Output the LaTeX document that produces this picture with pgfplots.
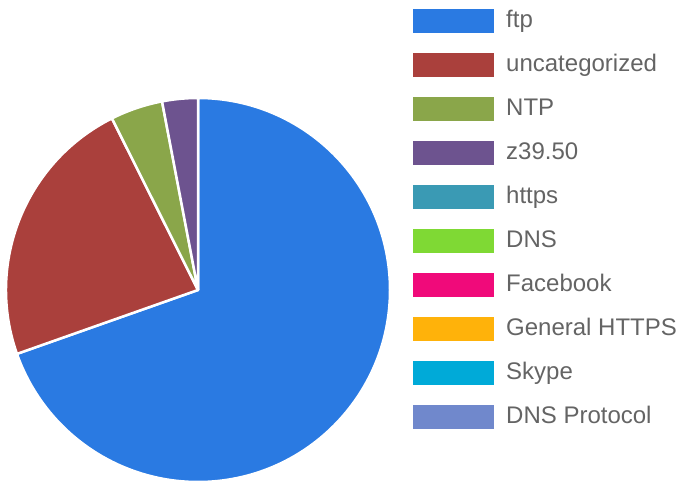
\documentclass[border=0pt]{standalone}
\usepackage{pgfplots}
\usepackage{pgfplotstable}
\pgfplotsset{compat=1.18}
\usepackage{fontspec}
\setmainfont{Liberation Sans}

\definecolor{cftp}{RGB}{42,122,226}
\definecolor{cunc}{RGB}{170,64,60}
\definecolor{cntp}{RGB}{138,166,74}
\definecolor{czz}{RGB}{109,83,143}
\definecolor{chttps}{RGB}{58,154,180}
\definecolor{cdns}{RGB}{127,217,52}
\definecolor{cfb}{RGB}{240,10,122}
\definecolor{cgh}{RGB}{255,178,10}
\definecolor{csky}{RGB}{0,170,216}
\definecolor{cdnsp}{RGB}{112,136,204}
\definecolor{ctext}{RGB}{100,100,100}

\pgfplotstableread{
label value
ftp 69.6
uncategorized 23.0
NTP 4.4
z39.50 3.0
https 0
DNS 0
Facebook 0
GeneralHTTPS 0
Skype 0
DNSProtocol 0
}\piedata

\pgfplotstablegetelem{0}{value}\of\piedata \let\vA\pgfplotsretval
\pgfplotstablegetelem{1}{value}\of\piedata \let\vB\pgfplotsretval
\pgfplotstablegetelem{2}{value}\of\piedata \let\vC\pgfplotsretval
\pgfplotstablegetelem{3}{value}\of\piedata \let\vD\pgfplotsretval
\pgfmathsetmacro\aA{90-3.6*\vA}
\pgfmathsetmacro\aB{\aA-3.6*\vB}
\pgfmathsetmacro\aC{\aB-3.6*\vC}
\pgfmathsetmacro\aD{\aC-3.6*\vD}

\begin{document}
\begin{tikzpicture}
\begin{axis}[
  name=ax,
  x=1pt, y=1pt,
  xmin=0, xmax=680, ymin=0, ymax=482,
  enlargelimits=false,
  hide axis, clip=false,
  legend cell align=left,
  legend image code/.code={\fill (0pt,-12pt) rectangle (81pt,12pt);},
  legend style={
    at={(axis cs:413,473)}, anchor=north west,
    draw=none, fill=none, inner xsep=0pt, inner ysep=0pt,
    row sep=20pt, column sep=12pt,
    font=\fontsize{24}{24}\selectfont, text=ctext,
    nodes={inner sep=0pt, text height=17pt, text depth=5pt},
  },
]
\begin{scope}[draw=white, line width=2.5pt, line join=round]
\filldraw[fill=cftp] (axis cs:198,192) -- ++(90:192pt) arc[start angle=90, end angle=\aA, radius=192pt] -- cycle;
\filldraw[fill=cunc] (axis cs:198,192) -- ++(\aA:192pt) arc[start angle=\aA, end angle=\aB, radius=192pt] -- cycle;
\filldraw[fill=cntp] (axis cs:198,192) -- ++(\aB:192pt) arc[start angle=\aB, end angle=\aC, radius=192pt] -- cycle;
\filldraw[fill=czz] (axis cs:198,192) -- ++(\aC:192pt) arc[start angle=\aC, end angle=\aD, radius=192pt] -- cycle;
\end{scope}
\addlegendimage{fill=cftp, draw=none}\addlegendentry{ftp}
\addlegendimage{fill=cunc, draw=none}\addlegendentry{uncategorized}
\addlegendimage{fill=cntp, draw=none}\addlegendentry{NTP}
\addlegendimage{fill=czz, draw=none}\addlegendentry{z39.50}
\addlegendimage{fill=chttps, draw=none}\addlegendentry{https}
\addlegendimage{fill=cdns, draw=none}\addlegendentry{DNS}
\addlegendimage{fill=cfb, draw=none}\addlegendentry{Facebook}
\addlegendimage{fill=cgh, draw=none}\addlegendentry{General HTTPS}
\addlegendimage{fill=csky, draw=none}\addlegendentry{Skype}
\addlegendimage{fill=cdnsp, draw=none}\addlegendentry{DNS Protocol}
\end{axis}
\pgfresetboundingbox
\useasboundingbox (ax.south west) rectangle (ax.north east);
\end{tikzpicture}
\end{document}
